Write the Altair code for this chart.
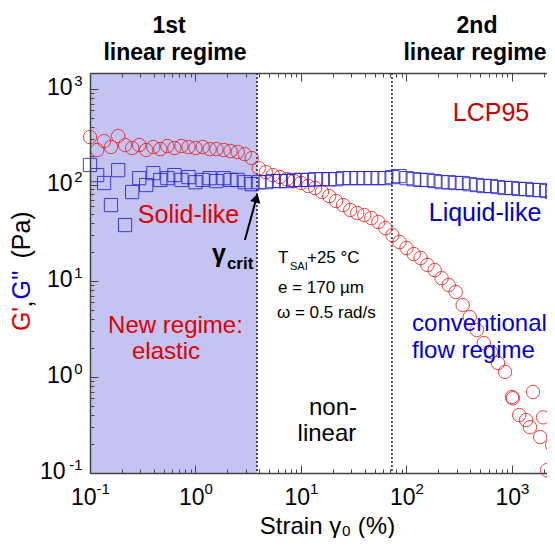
import altair as alt
import pandas as pd

# ---------------- data ----------------
strain = [0.1, 0.117, 0.136, 0.158, 0.185, 0.215, 0.251, 0.293, 0.341, 0.398,
          0.464, 0.541, 0.631, 0.736, 0.858, 1.0, 1.17, 1.36, 1.58, 1.85,
          2.15, 2.51, 2.93, 3.41, 3.98, 4.64, 5.41, 6.31, 7.36, 8.58,
          10.0, 11.7, 13.6, 15.8, 18.5, 21.5, 25.1, 29.3, 34.1, 39.8,
          46.4, 54.1, 63.1, 73.6, 85.8, 100, 117, 136, 158, 185,
          215, 251, 293, 341, 398, 464, 541, 631, 736, 858,
          1000, 1170, 1360, 1580, 1850, 2150, 2400]
g_storage = [316, 232, 287, 249, 324, 261, 243, 261, 232, 249,
             237, 255, 243, 255, 249, 243, 249, 237, 237, 232,
             226, 221, 210, 191, 150, 136, 127, 121, 115, 110,
             105, 97.7, 93.1, 84.6, 76.8, 68.1, 61.9, 55.0, 51.1, 48.7,
             45.3, 41.2, 35.6, 30.1, 25.5, 22.1, 19.1, 17.4, 14.7, 13.0,
             10.7, 9.09, 7.68, 5.62, 4.22, 3.09, 2.26, 1.82, 1.40, 1.13,
             0.619, 0.402, 0.356, 0.698, 0.237, 0.107, 0.196]
tail_strain = [1020, 1480, 1970]
tail_storage = [0.60, 0.30, 0.38]
g_loss = [162, 127, 105, 61.9, 143, 38.3, 84.6, 118, 100, 133,
          113, 118, 127, 113, 121, 107, 113, 118, 110, 118,
          113, 113, 107, 102, 107, 107, 110, 110, 110, 113,
          113, 113, 115, 115, 115, 115, 118, 118, 118, 118,
          118, 118, 118, 121, 124, 118, 115, 113, 113, 110,
          107, 107, 105, 105, 102, 100, 97.7, 97.7, 95.3, 93.1,
          93.1, 90.9, 90.9, 88.7, 88.7, 86.6, 84.6]

shade_range = [0.1, 3.83]
dotted_x = [3.83, 72.8]
arrow_tail = [2.94, 26.7]
arrow_head = [3.78, 73.2]

X_DOMAIN = [0.1, 2147]
Y_DOMAIN = [0.1, 1470]
x_major = [0.1, 1, 10, 100, 1000]
y_major = [0.1, 1, 10, 100, 1000]
x_ticks = [round(k * 10.0 ** n, 4) for n in range(-1, 4) for k in range(1, 10) if k * 10.0 ** n <= X_DOMAIN[1]]
y_ticks = [round(k * 10.0 ** n, 4) for n in range(-1, 4) for k in range(1, 10) if k * 10.0 ** n <= Y_DOMAIN[1]]

# annotations: text, x, y, colour, size, align, weight, dx, dy
annotations = [
    ("LCP95", 632, 562, "#c80000", 25, "center", "normal", 0, 0),
    ("Solid-like", 0.859, 48.7, "#e00000", 25, "center", "normal", 0, 0),
    ("Liquid-like", 555, 51.1, "#0000c8", 25, "center", "normal", 0, 0),
    ("New regime:", 0.646, 3.40, "#e00000", 24, "center", "normal", 0, 0),
    ("elastic", 0.525, 1.82, "#e00000", 24, "center", "normal", 0, 0),
    ("non-", 20.1, 0.475, "black", 24, "center", "normal", 0, 0),
    ("linear", 17.6, 0.255, "black", 24, "center", "normal", 0, 0),
    ("conventional", 113, 3.56, "#0000d0", 24, "left", "normal", 0, 0),
    ("flow regime", 113, 1.87, "#0000d0", 24, "left", "normal", 0, 0),
    ("T", 6.05, 17.4, "black", 17, "left", "normal", 0, 0),
    ("SAI", 6.05, 17.4, "black", 11, "left", "normal", 12, 9),
    ("+25 °C", 6.05, 17.4, "black", 17, "left", "normal", 29, 0),
    ("e = 170 µm", 6.05, 8.45, "black", 17, "left", "normal", 0, 0),
    ("ω = 0.5 rad/s", 5.92, 4.64, "black", 17, "left", "normal", 0, 0),
    ("γ", 1.43, 19.1, "black", 25, "left", "bold", 0, 0),
    ("crit", 1.43, 19.1, "black", 17, "left", "bold", 15, 10),
]
# texts outside the plot area (pixel positions relative to plot origin)
outer_texts = [
    ("1st", 79, -47, "black", 23, 0, "bold"),
    ("linear regime", 85, -20, "black", 23, 0, "bold"),
    ("2nd", 387, -47, "black", 23, 0, "bold"),
    ("linear regime", 385, -20, "black", 23, 0, "bold"),
    ("G'", -68, 246, "#e00000", 25, 270, "normal"),
    (",", -66, 231, "black", 25, 270, "normal"),
    ("G''", -68, 212, "#0000e0", 25, 270, "normal"),
    ("(Pa)", -68, 162, "black", 25, 270, "normal"),
]

W, H = 457, 400
FONT = "Liberation Sans"
AX = "#444444"
MAJOR = "abs(log(datum.value)/LN10 - round(log(datum.value)/LN10)) < 0.001"
tick_size = {"condition": {"test": MAJOR, "value": 8}, "value": 4}

xs = alt.Scale(type="log", domain=X_DOMAIN, nice=False)
ys = alt.Scale(type="log", domain=Y_DOMAIN, nice=False)

common = dict(grid=False, zindex=1, labelFont=FONT, labelColor="black")

x_lab10 = alt.Axis(orient="bottom", values=x_major, labelExpr="'10'", labelAlign="right",
                   labelBaseline="top",
                   labelOffset={"condition": {"test": "datum.value < 0.5", "value": 6}, "value": 8.5},
                   labelPadding=13, ticks=False, tickSize=0, domain=True, domainColor=AX,
                   domainWidth=1.5, labelFontSize=23, labelFlush=False, labelOverlap=False,
                   title="Strain γ₀ (%)", titleFont=FONT, titleFontSize=24, titleFontWeight="normal",
                   titleColor="black", titleX=237, titleY=60, titleBaseline="alphabetic",
                   titleAlign="center", **common)
x_labexp = alt.Axis(orient="bottom", values=x_major,
                    labelExpr="'' + round(log(datum.value)/LN10)", labelAlign="left",
                    labelBaseline="top",
                    labelOffset={"condition": {"test": "datum.value < 0.5", "value": 6}, "value": 8.5},
                    labelPadding=8, ticks=False, tickSize=0, domain=False, labelFontSize=15,
                    labelFlush=False, labelOverlap=False, title=None, **common)
x_tick_bottom = alt.Axis(orient="top", offset=-H, values=x_ticks, labels=False, domain=False,
                         tickSize=tick_size, tickColor=AX, tickWidth=1, title=None, **common)
x_tick_top = alt.Axis(orient="bottom", offset=-H, values=x_ticks, labels=False, domain=True,
                      domainColor=AX, domainWidth=1.5, tickSize=tick_size, tickColor=AX,
                      tickWidth=1, title=None, **common)

y_lab10 = alt.Axis(orient="left", values=y_major, labelExpr="'10'", labelAlign="right",
                   labelBaseline="middle",
                   labelPadding={"condition": {"test": "datum.value < 0.5", "value": 25}, "value": 18},
                   labelOffset=-2, ticks=False, tickSize=0, domain=True, domainColor=AX,
                   domainWidth=1.5, labelFontSize=23, labelFlush=False, labelOverlap=False,
                   title=None, **common)
y_labexp = alt.Axis(orient="left", values=y_major,
                    labelExpr="'' + round(log(datum.value)/LN10)", labelAlign="right",
                    labelBaseline="middle", labelPadding=8, labelOffset=-9, ticks=False,
                    tickSize=0, domain=False, labelFontSize=15, labelFlush=False,
                    labelOverlap=False, title=None, **common)
y_tick_left = alt.Axis(orient="right", offset=-W, values=y_ticks, labels=False, domain=False,
                       tickSize=tick_size, tickColor=AX, tickWidth=1, title=None, **common)

# ---------------- layers ----------------
shade = alt.Chart(pd.DataFrame({"x0": [shade_range[0]], "x1": [shade_range[1]],
                                "y0": [Y_DOMAIN[0]], "y1": [Y_DOMAIN[1]]})).mark_rect(
    color="#c4c4f2").encode(
    x=alt.X("x0:Q", scale=xs, axis=x_tick_bottom),
    x2="x1:Q",
    y=alt.Y("y0:Q", scale=ys, axis=y_tick_left),
    y2="y1:Q")

dotted = alt.Chart(pd.DataFrame({"x": dotted_x})).mark_rule(
    color="black", strokeDash=[2, 2], strokeWidth=1.3).encode(
    x=alt.X("x:Q", scale=xs, axis=x_tick_top))

df_gp = pd.DataFrame({"strain": strain + tail_strain, "G": g_storage + tail_storage})
df_gpp = pd.DataFrame({"strain": strain, "G": g_loss})

circles = alt.Chart(df_gp).mark_point(
    shape="circle", filled=False, color="#e41a1a", size=180, strokeWidth=0.9, opacity=0.9).encode(
    x=alt.X("strain:Q", scale=xs, axis=x_lab10),
    y=alt.Y("G:Q", scale=ys, axis=y_lab10))

squares = alt.Chart(df_gpp).mark_point(
    shape="square", filled=False, color="#1c1cc8", size=175, strokeWidth=0.9, opacity=0.9).encode(
    x=alt.X("strain:Q", scale=xs, axis=x_labexp),
    y=alt.Y("G:Q", scale=ys, axis=y_labexp))

arrow_line = alt.Chart(pd.DataFrame({"x": [arrow_tail[0]], "x2": [arrow_head[0]],
                                     "y": [arrow_tail[1]], "y2": [arrow_head[1]]})).mark_rule(
    color="black", strokeWidth=2).encode(
    x=alt.X("x:Q", scale=xs, axis=None), x2="x2:Q",
    y=alt.Y("y:Q", scale=ys, axis=None), y2="y2:Q")
arrow_tip = alt.Chart(pd.DataFrame({"x": [arrow_head[0]], "y": [arrow_head[1]]})).mark_point(
    shape="triangle-up", filled=True, color="black", size=110, angle=15, opacity=1).encode(
    x=alt.X("x:Q", scale=xs, axis=None),
    y=alt.Y("y:Q", scale=ys, axis=None))

layers = [shade, dotted, circles, squares, arrow_line, arrow_tip]

for text, tx, ty, col, sz, al, wt, dx, dy in annotations:
    layers.append(
        alt.Chart(pd.DataFrame({"x": [tx], "y": [ty], "t": [text]})).mark_text(
            font=FONT, fontSize=sz, color=col, align=al, baseline="middle",
            fontWeight=wt, dx=dx, dy=dy).encode(
            x=alt.X("x:Q", scale=xs, axis=None),
            y=alt.Y("y:Q", scale=ys, axis=None),
            text="t:N"))

for text, px, py, col, sz, ang, wt in outer_texts:
    layers.append(
        alt.Chart(pd.DataFrame({"t": [text]})).mark_text(
            font=FONT, fontSize=sz, color=col, align="center", baseline="middle",
            fontWeight=wt, angle=ang).encode(
            x=alt.value(px), y=alt.value(py), text="t:N"))

chart = alt.layer(*layers).resolve_axis(x="independent", y="independent").properties(
    width=W, height=H,
    autosize=alt.AutoSizeParams(type="none"),
    padding={"left": 82, "top": 65, "right": 0, "bottom": 65},
).configure_view(stroke=None).configure(font=FONT)

chart.save("out.html", embed_options={"renderer": "svg", "actions": False})
